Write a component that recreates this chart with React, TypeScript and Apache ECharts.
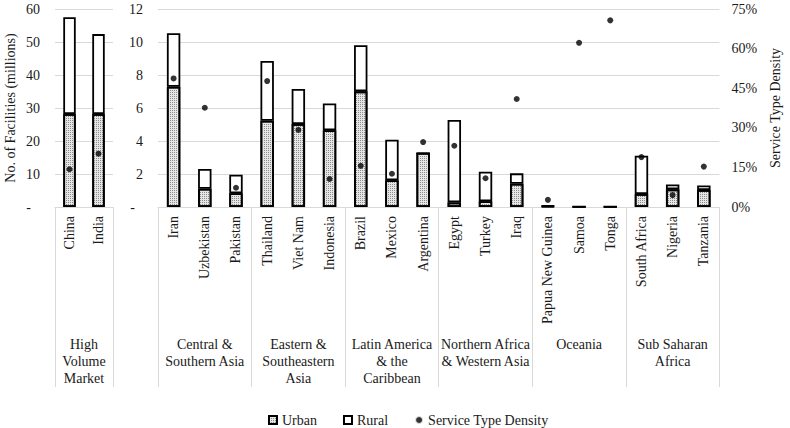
import React, { useEffect, useRef } from "react";
import * as echarts from "echarts";

const countriesHV = ["China", "India"];
const urbanHV = [28.2, 28.2];
const ruralHV = [29.3, 24.2];
const densityHV = [14.3, 20.2];

const countries = [
  "Iran", "Uzbekistan", "Pakistan",
  "Thailand", "Viet Nam", "Indonesia",
  "Brazil", "Mexico", "Argentina",
  "Egypt", "Turkey", "Iraq",
  "Papua New Guinea", "Samoa", "Tonga",
  "South Africa", "Nigeria", "Tanzania",
];
const urban = [7.29, 1.11, 0.83, 5.23, 5.03, 4.65, 7.01, 1.62, 3.27, 0.28, 0.35, 1.41, 0.05, 0.02, 0.02, 0.79, 1.07, 1.03];
const rural = [3.24, 1.19, 1.13, 3.62, 2.12, 1.63, 2.79, 2.46, 0, 4.99, 1.79, 0.63, 0.03, 0, 0, 2.32, 0.3, 0.28];
const density = [48.7, 37.6, 7.3, 47.7, 29.2, 10.6, 15.6, 12.6, 24.6, 23.2, 10.9, 40.9, 2.7, 62.2, 70.7, 18.9, 4.5, 15.3];

const groupsHV = ["High\nVolume\nMarket"];
const groups = [
  "Central &\nSouthern Asia",
  "Eastern &\nSoutheastern\nAsia",
  "Latin America\n& the\nCaribbean",
  "Northern Africa\n& Western Asia",
  "Oceania",
  "Sub Saharan\nAfrica",
];

const FONT = "Liberation Serif";
const TXT = "#1a1a1a";
const GRIDC = "#d9d9d9";

export default function App() {
  const ref = useRef<HTMLDivElement>(null);
  useEffect(() => {
    document.body.style.margin = "0";
    if (!ref.current) return;
    const chart = echarts.init(ref.current, null, { renderer: "svg" });
    const ts = { fontFamily: FONT, fontSize: 14, color: TXT };
    const urbanStyle = {
      color: "#e6e6e6",
      borderColor: "#000",
      borderWidth: 1.8,
      decal: {
        symbol: "rect",
        symbolSize: 1,
        color: "#8c8c8c",
        dashArrayX: [1, 1],
        dashArrayY: [1, 1],
        rotation: 0,
      },
    };
    const ruralStyle = { color: "#fff", borderColor: "#000", borderWidth: 1.8 };
    const catLabel = { rotate: 90, interval: 0, margin: 9, ...ts };
    const groupAxisCommon = {
      type: "category",
      position: "bottom",
      axisLine: { show: false },
      axisTick: { show: true, interval: 0, length: 180, lineStyle: { color: GRIDC, width: 1 } },
      axisLabel: { interval: 0, margin: 129, lineHeight: 17, ...ts },
      splitLine: { show: false },
    };
    const zeroFmt = (v: number) => (v === 0 ? "{d|-}" : String(v));
    const option: any = {
      animation: false,
      legend: {
        left: 263,
        top: 408,
        itemWidth: 8,
        itemHeight: 8,
        itemGap: 26,
        textStyle: { ...ts },
        data: [
          { name: "Urban", icon: "rect" },
          { name: "Rural", icon: "rect" },
          { name: "Service Type Density", icon: "circle", itemStyle: { color: "#000", borderColor: "#fff", borderWidth: 2 } },
        ],
      },
      grid: [
        { left: 55, top: 9, width: 58, height: 198 },
        { left: 158, top: 9, width: 569, height: 198 },
      ],
      xAxis: [
        {
          type: "category", gridIndex: 0, position: "bottom", data: countriesHV,
          axisLine: { lineStyle: { color: GRIDC } }, axisTick: { show: false }, axisLabel: catLabel,
        },
        {
          type: "category", gridIndex: 1, position: "bottom", data: countries,
          axisLine: { lineStyle: { color: GRIDC } }, axisTick: { show: false }, axisLabel: catLabel,
        },
        { ...groupAxisCommon, gridIndex: 0, data: groupsHV },
        { ...groupAxisCommon, gridIndex: 1, data: groups },
      ],
      yAxis: [
        {
          type: "value", gridIndex: 0, min: 0, max: 60, interval: 10,
          name: "No. of Facilities (millions)", nameLocation: "middle", nameGap: 38, nameRotate: 90,
          nameTextStyle: { ...ts },
          axisLine: { show: false }, axisTick: { show: false },
          axisLabel: { margin: 15, ...ts, formatter: zeroFmt, rich: { d: { padding: [0, 9, 0, 0], ...ts } } },
          splitLine: { lineStyle: { color: GRIDC } },
        },
        {
          type: "value", gridIndex: 0, min: 0, max: 75, interval: 15, show: false,
          splitLine: { show: false },
        },
        {
          type: "value", gridIndex: 1, min: 0, max: 12, interval: 2,
          axisLine: { show: false }, axisTick: { show: false },
          axisLabel: { margin: 15, ...ts, formatter: zeroFmt, rich: { d: { padding: [0, 8, 0, 0], ...ts } } },
          splitLine: { lineStyle: { color: GRIDC } },
        },
        {
          type: "value", gridIndex: 1, position: "right", min: 0, max: 75, interval: 15,
          name: "Service Type Density", nameLocation: "middle", nameGap: 43, nameRotate: 90,
          nameTextStyle: { ...ts },
          axisLine: { show: false }, axisTick: { show: false },
          axisLabel: { margin: 12, ...ts, formatter: "{value}%" },
          splitLine: { show: false },
        },
      ],
      series: [
        { name: "Urban", type: "bar", xAxisIndex: 0, yAxisIndex: 0, stack: "hv", barWidth: "43%", data: urbanHV, itemStyle: urbanStyle },
        { name: "Rural", type: "bar", xAxisIndex: 0, yAxisIndex: 0, stack: "hv", barWidth: "43%", data: ruralHV, itemStyle: ruralStyle },
        { name: "Service Type Density", type: "scatter", xAxisIndex: 0, yAxisIndex: 1, symbolSize: 6, data: densityHV, itemStyle: { color: "#000" }, z: 5 },
        { name: "Urban", type: "bar", xAxisIndex: 1, yAxisIndex: 2, stack: "rg", barWidth: "43%", data: urban, itemStyle: urbanStyle },
        { name: "Rural", type: "bar", xAxisIndex: 1, yAxisIndex: 2, stack: "rg", barWidth: "43%", data: rural, itemStyle: ruralStyle },
        { name: "Service Type Density", type: "scatter", xAxisIndex: 1, yAxisIndex: 3, symbolSize: 6, data: density, itemStyle: { color: "#000" }, z: 5 },
      ],
    };
    chart.setOption(option);
    return () => chart.dispose();
  }, []);
  return <div ref={ref} style={{ width: 790, height: 428 }} />;
}
